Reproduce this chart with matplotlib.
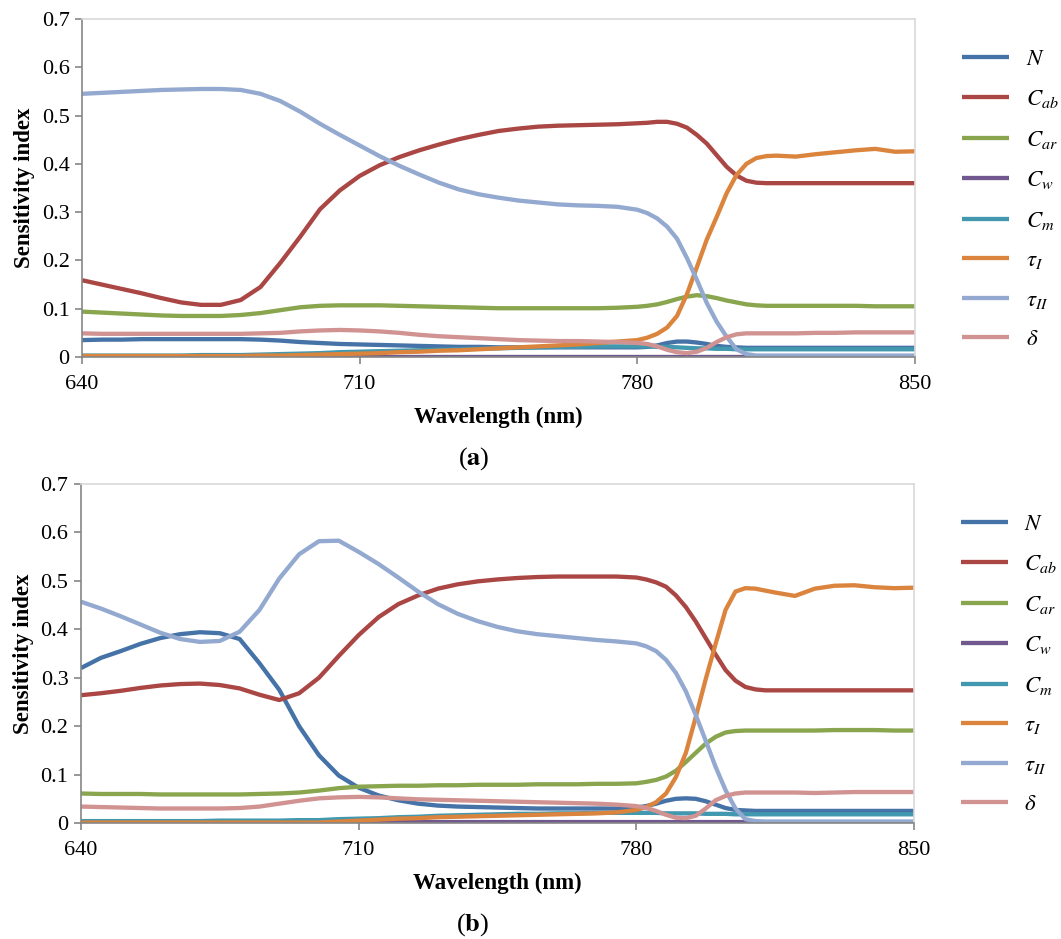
import numpy as np
from matplotlib import pyplot as plt

plt.rcParams['font.family'] = ['Liberation Serif', 'DejaVu Serif']
plt.rcParams['mathtext.fontset'] = 'stix'

wavelength = [640, 645, 650, 655, 660, 665, 670, 675, 680, 685, 690, 695, 700, 705, 710,
              715, 720, 725, 730, 735, 740, 745, 750, 755, 760, 765, 770, 775, 780,
              782.5, 785, 787.5, 790, 792.5, 795, 797.5, 800, 802.5, 805, 807.5, 810, 812.5, 815,
              820, 825, 830, 835, 840, 845, 850]

labels = [r'$N$', r'$C_{ab}$', r'$C_{ar}$', r'$C_w$', r'$C_m$', r'$\tau_I$', r'$\tau_{II}$', r'$\delta$']
colors = ['#4572A7', '#AA4643', '#89A54E', '#71588F', '#4198AF', '#DB843D', '#93A9CF', '#D19392']

# ---- panel (a)
N_a = [0.035, 0.036, 0.036, 0.037, 0.037, 0.037, 0.037, 0.037, 0.037, 0.036, 0.034, 0.031, 0.029, 0.027, 0.026,
       0.025, 0.024, 0.023, 0.022, 0.021, 0.021, 0.020, 0.020, 0.020, 0.020, 0.020, 0.020, 0.020, 0.020,
       0.021, 0.024, 0.029, 0.032, 0.032, 0.030, 0.027, 0.023, 0.021, 0.020, 0.019, 0.019, 0.019, 0.019,
       0.019, 0.019, 0.019, 0.019, 0.019, 0.019, 0.019]
Cab_a = [0.159, 0.150, 0.141, 0.132, 0.122, 0.113, 0.108, 0.108, 0.118, 0.145, 0.195, 0.249, 0.306, 0.345, 0.375,
         0.397, 0.414, 0.428, 0.440, 0.451, 0.460, 0.468, 0.473, 0.477, 0.479, 0.480, 0.481, 0.482, 0.484,
         0.485, 0.487, 0.487, 0.483, 0.475, 0.460, 0.442, 0.418, 0.394, 0.376, 0.365, 0.361, 0.360, 0.360,
         0.360, 0.360, 0.360, 0.360, 0.360, 0.360, 0.360]
Car_a = [0.094, 0.092, 0.090, 0.088, 0.086, 0.085, 0.085, 0.085, 0.087, 0.091, 0.097, 0.103, 0.106, 0.107, 0.107,
         0.107, 0.106, 0.105, 0.104, 0.103, 0.102, 0.101, 0.101, 0.101, 0.101, 0.101, 0.101, 0.102, 0.104,
         0.106, 0.109, 0.114, 0.120, 0.125, 0.128, 0.126, 0.122, 0.117, 0.113, 0.109, 0.107, 0.106, 0.106,
         0.106, 0.106, 0.106, 0.106, 0.105, 0.105, 0.105]
Cw_a = [0.001] * 50
Cm_a = [0.003, 0.003, 0.003, 0.003, 0.003, 0.003, 0.004, 0.004, 0.004, 0.005, 0.006, 0.007, 0.008, 0.010, 0.011,
        0.012, 0.013, 0.014, 0.015, 0.016, 0.017, 0.018, 0.019, 0.020, 0.021, 0.021, 0.022, 0.022, 0.022,
        0.022, 0.021, 0.021, 0.020, 0.019, 0.018, 0.018, 0.017, 0.017, 0.016, 0.016, 0.016, 0.016, 0.016,
        0.016, 0.016, 0.016, 0.016, 0.016, 0.016, 0.016]
tauI_a = [0.002, 0.002, 0.002, 0.002, 0.002, 0.002, 0.002, 0.002, 0.002, 0.003, 0.003, 0.004, 0.005, 0.006, 0.007,
          0.008, 0.010, 0.011, 0.013, 0.014, 0.016, 0.018, 0.020, 0.022, 0.024, 0.026, 0.029, 0.032, 0.035,
          0.040, 0.048, 0.061, 0.085, 0.130, 0.186, 0.243, 0.290, 0.339, 0.377, 0.400, 0.412, 0.416, 0.417,
          0.415, 0.420, 0.424, 0.428, 0.431, 0.425, 0.426]
tauII_a = [0.545, 0.547, 0.549, 0.551, 0.553, 0.554, 0.555, 0.555, 0.553, 0.545, 0.530, 0.508, 0.483, 0.460, 0.438,
           0.416, 0.396, 0.378, 0.361, 0.347, 0.337, 0.330, 0.324, 0.320, 0.316, 0.314, 0.313, 0.311, 0.305,
           0.298, 0.287, 0.270, 0.245, 0.205, 0.160, 0.112, 0.073, 0.042, 0.016, 0.006, 0.003, 0.003, 0.003,
           0.003, 0.003, 0.003, 0.003, 0.003, 0.003, 0.003]
delta_a = [0.049, 0.048, 0.048, 0.048, 0.048, 0.048, 0.048, 0.048, 0.048, 0.049, 0.050, 0.053, 0.055, 0.056, 0.055,
           0.053, 0.050, 0.046, 0.043, 0.041, 0.039, 0.037, 0.035, 0.034, 0.033, 0.033, 0.032, 0.031, 0.029,
           0.027, 0.022, 0.015, 0.010, 0.008, 0.011, 0.019, 0.031, 0.041, 0.047, 0.049, 0.049, 0.049, 0.049,
           0.049, 0.050, 0.050, 0.051, 0.051, 0.051, 0.051]

# ---- panel (b)
N_b = [0.320, 0.341, 0.355, 0.370, 0.382, 0.390, 0.394, 0.392, 0.380, 0.330, 0.275, 0.200, 0.140, 0.098, 0.073,
       0.057, 0.047, 0.040, 0.036, 0.034, 0.033, 0.032, 0.031, 0.030, 0.030, 0.030, 0.030, 0.030, 0.032,
       0.035, 0.040, 0.046, 0.050, 0.051, 0.050, 0.045, 0.038, 0.031, 0.027, 0.026, 0.025, 0.025, 0.025,
       0.025, 0.025, 0.025, 0.025, 0.025, 0.025, 0.025]
Cab_b = [0.264, 0.268, 0.273, 0.279, 0.284, 0.287, 0.288, 0.285, 0.278, 0.265, 0.254, 0.268, 0.300, 0.345, 0.388,
         0.425, 0.452, 0.470, 0.484, 0.493, 0.499, 0.503, 0.506, 0.508, 0.509, 0.509, 0.509, 0.509, 0.507,
         0.503, 0.497, 0.488, 0.470, 0.446, 0.416, 0.382, 0.348, 0.316, 0.294, 0.281, 0.276, 0.274, 0.274,
         0.274, 0.274, 0.274, 0.274, 0.274, 0.274, 0.274]
Car_b = [0.061, 0.060, 0.060, 0.060, 0.059, 0.059, 0.059, 0.059, 0.059, 0.060, 0.061, 0.063, 0.067, 0.072, 0.075,
         0.076, 0.077, 0.077, 0.078, 0.078, 0.079, 0.079, 0.079, 0.080, 0.080, 0.080, 0.081, 0.081, 0.082,
         0.085, 0.089, 0.096, 0.108, 0.126, 0.145, 0.164, 0.178, 0.187, 0.190, 0.191, 0.191, 0.191, 0.191,
         0.191, 0.191, 0.192, 0.192, 0.192, 0.191, 0.191]
Cw_b = [0.001, 0.001, 0.001, 0.001, 0.001, 0.001, 0.001, 0.001, 0.001, 0.001, 0.001, 0.001, 0.001, 0.001, 0.001,
        0.002, 0.002, 0.002, 0.002, 0.002, 0.002, 0.002, 0.002, 0.002, 0.002, 0.002, 0.002, 0.002, 0.002,
        0.002, 0.002, 0.002, 0.002, 0.002, 0.002, 0.002, 0.002, 0.002, 0.002, 0.002, 0.002, 0.002, 0.002,
        0.002, 0.002, 0.002, 0.002, 0.002, 0.002, 0.002]
Cm_b = [0.004, 0.004, 0.004, 0.004, 0.004, 0.004, 0.004, 0.005, 0.005, 0.005, 0.005, 0.006, 0.006, 0.008, 0.009,
        0.010, 0.012, 0.013, 0.015, 0.016, 0.017, 0.018, 0.019, 0.019, 0.020, 0.020, 0.021, 0.021, 0.021,
        0.021, 0.021, 0.020, 0.020, 0.020, 0.020, 0.019, 0.019, 0.019, 0.018, 0.018, 0.018, 0.018, 0.018,
        0.018, 0.018, 0.018, 0.018, 0.018, 0.018, 0.018]
tauI_b = [0.001, 0.001, 0.001, 0.001, 0.001, 0.001, 0.001, 0.001, 0.001, 0.001, 0.001, 0.001, 0.001, 0.003, 0.005,
          0.007, 0.009, 0.010, 0.012, 0.013, 0.014, 0.015, 0.016, 0.017, 0.018, 0.019, 0.020, 0.022, 0.027,
          0.033, 0.043, 0.061, 0.095, 0.145, 0.219, 0.297, 0.370, 0.440, 0.478, 0.485, 0.484, 0.480, 0.476,
          0.469, 0.484, 0.490, 0.491, 0.487, 0.485, 0.486]
tauII_b = [0.457, 0.443, 0.427, 0.410, 0.393, 0.380, 0.374, 0.376, 0.395, 0.440, 0.505, 0.555, 0.582, 0.583, 0.560,
           0.535, 0.507, 0.478, 0.452, 0.432, 0.417, 0.405, 0.396, 0.390, 0.386, 0.382, 0.378, 0.375, 0.371,
           0.365, 0.355, 0.337, 0.310, 0.272, 0.223, 0.170, 0.116, 0.068, 0.030, 0.008, 0.004, 0.003, 0.003,
           0.003, 0.003, 0.003, 0.003, 0.003, 0.003, 0.003]
delta_b = [0.034, 0.033, 0.032, 0.031, 0.030, 0.030, 0.030, 0.030, 0.031, 0.034, 0.040, 0.046, 0.051, 0.053, 0.054,
           0.053, 0.051, 0.049, 0.048, 0.047, 0.046, 0.045, 0.044, 0.043, 0.042, 0.041, 0.040, 0.038, 0.035,
           0.031, 0.025, 0.017, 0.011, 0.010, 0.015, 0.030, 0.047, 0.056, 0.061, 0.063, 0.063, 0.063, 0.063,
           0.063, 0.062, 0.063, 0.064, 0.064, 0.064, 0.064]

series_a = [N_a, Cab_a, Car_a, Cw_a, Cm_a, tauI_a, tauII_a, delta_a]
series_b = [N_b, Cab_b, Car_b, Cw_b, Cm_b, tauI_b, tauII_b, delta_b]


def draw_panel(ax, series, tag):
    for vals, col, lab in zip(series, colors, labels):
        ax.plot(wavelength, vals, color=col, lw=3.1, label=lab, solid_joinstyle='round', solid_capstyle='butt')
    ax.set_xlim(640, 850)
    ax.set_ylim(0, 0.7)
    ax.set_xticks([640, 710, 780, 850])
    ax.set_yticks(np.arange(0, 0.71, 0.1))
    ax.set_yticklabels(['0', '0.1', '0.2', '0.3', '0.4', '0.5', '0.6', '0.7'])
    for s in ['top', 'right']:
        ax.spines[s].set_color('#d9d9d9')
    for s in ['left', 'bottom']:
        ax.spines[s].set_color('#868686')
    for s in ax.spines.values():
        s.set_linewidth(1.2)
    ax.tick_params(axis='both', direction='out', length=5, width=1.2, color='#868686', labelsize=16)
    ax.tick_params(axis='x', pad=8)
    ax.tick_params(axis='y', pad=4)
    ax.set_xlabel('Wavelength (nm)', fontsize=16.5, fontweight='bold', labelpad=9)
    ax.set_ylabel('Sensitivity index', fontsize=16.5, fontweight='bold', labelpad=5)
    lgd = ax.legend(loc='upper left', bbox_to_anchor=(1.057, 0.912), frameon=False, fontsize=16.5,
                    handlelength=2.05, labelspacing=0.805, handletextpad=0.7,
                    borderpad=0, borderaxespad=0)
    ax.text(0.47, -0.30, '(' + r'$\mathbf{' + tag + '}$' + ')', transform=ax.transAxes,
            ha='center', va='center', fontsize=19)
    return lgd


fig = plt.figure(figsize=(10.61, 9.39), dpi=100)
ax1 = fig.add_axes([0.0773, 0.6198, 0.7851, 0.36])
ax2 = fig.add_axes([0.0763, 0.1235, 0.7851, 0.361])
draw_panel(ax1, series_a, 'a')
draw_panel(ax2, series_b, 'b')

fig.savefig('out.png', dpi=100)
